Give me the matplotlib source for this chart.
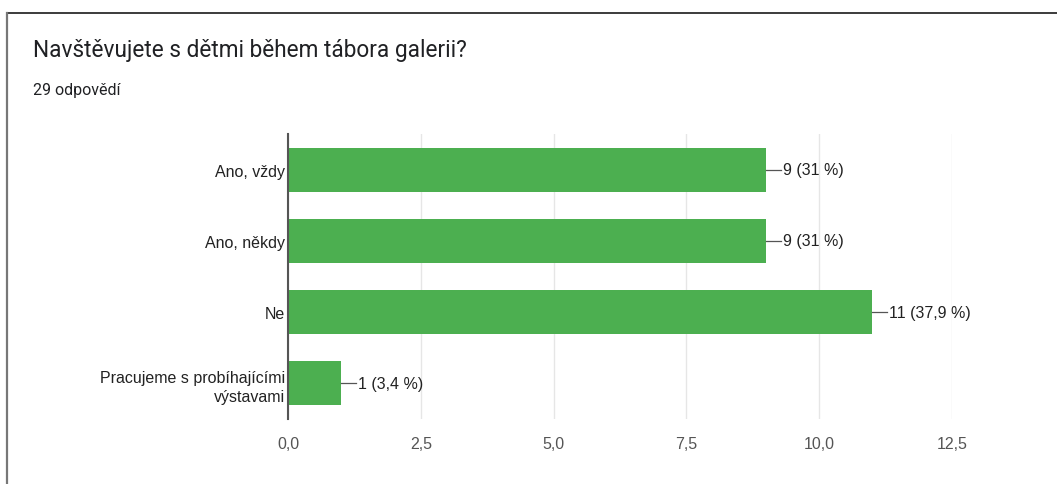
import matplotlib
matplotlib.use("Agg")
import matplotlib.pyplot as plt
from matplotlib.ticker import FuncFormatter, MultipleLocator
from matplotlib.lines import Line2D

title = "Navštěvujete s dětmi během tábora galerii?"
subtitle = "29 odpovědí"
categories = ["Ano, vždy", "Ano, někdy", "Ne", "Pracujeme s probíhajícími\nvýstavami"]
counts = [9, 9, 11, 1]
value_labels = ["9 (31 %)", "9 (31 %)", "11 (37,9 %)", "1 (3,4 %)"]

W, H = 1057, 485
fig = plt.figure(figsize=(W / 100, H / 100), dpi=100)
fig.patch.set_facecolor("white")

# frame border lines
fig.add_artist(Line2D([7 / W, 1.0], [1 - 14 / H, 1 - 14 / H], transform=fig.transFigure,
                      color="#1a1a1a", lw=1.2))
fig.add_artist(Line2D([7 / W, 7 / W], [0, 1 - 14 / H], transform=fig.transFigure,
                      color="#777777", lw=1.6))

fig.text(33 / W, 1 - 50 / H, title, fontsize=16.3, family="Roboto", color="#202124", va="center")
fig.text(33 / W, 1 - 90 / H, subtitle, fontsize=11.5, family="Roboto", color="#202124", va="center")

x0, x1 = 288 / W, 952 / W
y_top, y_bot = 1 - 135 / H, 1 - 420 / H
ax = fig.add_axes([x0, y_bot, x1 - x0, y_top - y_bot])

ypos = list(range(len(categories)))
ax.barh(ypos, counts, height=0.62, color="#4caf50", zorder=2)
ax.set_ylim(len(categories) - 0.5, -0.5)
ax.set_xlim(0, 12.5)
ax.xaxis.set_major_locator(MultipleLocator(2.5))
ax.xaxis.set_major_formatter(FuncFormatter(lambda v, p: f"{v:.1f}".replace(".", ",")))
ax.grid(axis="x", color="#e6e6e6", lw=1, zorder=0)
ax.set_axisbelow(True)
for s in ["top", "right", "bottom"]:
    ax.spines[s].set_visible(False)
ax.spines["left"].set_color("#555555")
ax.spines["left"].set_linewidth(1.5)
ax.spines["left"].set_zorder(3)
ax.set_yticks(ypos)
ax.set_yticklabels(categories, fontsize=11.5, family="Liberation Sans", color="#222222",
                   linespacing=1.35)
ax.tick_params(axis="y", length=0, pad=2)
ax.tick_params(axis="x", length=0, pad=12, labelsize=11.5, labelcolor="#555555")
for lab in ax.get_xticklabels():
    lab.set_family(["Liberation Sans Narrow", "Liberation Sans"])

for y, c, t in zip(ypos, counts, value_labels):
    ax.plot([c, c + 0.28], [y, y], color="#555555", lw=0.9, zorder=3, clip_on=False)
    ax.text(c + 0.31, y, t, va="center", ha="left", fontsize=11.5, family="Liberation Sans",
            color="#222222")

fig.savefig("out.png", dpi=100, facecolor="white")
